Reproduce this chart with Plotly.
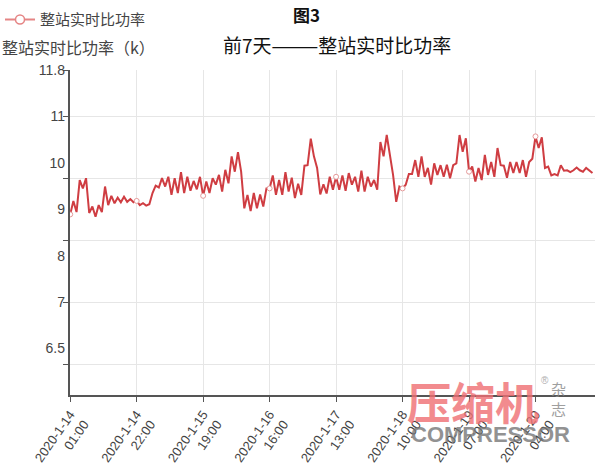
import plotly.graph_objects as go
import pandas as pd

# ---- data (hourly readings) ----
start_time = "2020-01-14 01:00"
values = [
    8.89, 9.18, 8.94, 9.63, 9.45, 9.67, 8.92, 9.06, 8.84, 9.09,
    8.94, 9.49, 9.09, 9.29, 9.13, 9.25, 9.15, 9.27, 9.16, 9.22,
    9.15, 9.18, 9.09, 9.13, 9.08, 9.11, 9.35, 9.51, 9.47, 9.67,
    9.49, 9.70, 9.31, 9.67, 9.35, 9.80, 9.35, 9.70, 9.40, 9.61,
    9.43,
    9.70, 9.29, 9.60, 9.35, 9.67, 9.53, 9.74, 9.38, 9.85, 9.56,
    10.14, 9.81, 10.23, 9.81, 9.02, 9.31, 8.96, 9.35, 9.02, 9.32,
    9.06, 9.45, 9.45, 9.73, 9.31, 9.63, 9.31, 9.80, 9.38, 9.68,
    9.24, 9.55, 9.31, 9.94, 9.95, 10.52, 10.14, 9.89, 9.32, 9.54,
    9.34, 9.70,
    9.42, 9.70, 9.42, 9.73, 9.40, 9.78, 9.53, 9.70, 9.38, 9.83,
    9.38, 9.70, 9.49, 9.63, 9.42, 10.45, 10.14, 10.60, 10.14, 9.74,
    9.16, 9.49, 9.45, 9.53, 9.76, 9.76, 10.06, 9.70, 10.14, 9.70,
    9.89, 9.53, 9.99, 9.74, 9.95, 9.70, 9.96, 9.67, 9.95, 9.99,
    10.60, 10.24,
    10.53, 9.81, 9.92, 9.60, 9.89, 9.63, 10.17, 9.74, 10.02, 9.70,
    10.32, 9.95, 9.94, 9.68, 10.02, 9.78, 10.02, 9.78, 10.06, 9.70,
    10.02, 10.09, 10.57, 10.32, 10.55, 9.89, 9.92, 9.73, 9.76, 9.73,
    9.95, 9.83, 9.84, 9.80, 9.84, 9.90, 9.84, 9.81, 9.89, 9.84,
    9.78,
]
tick_step = 21
x_tick_labels = [
    "2020-1-14<br>01:00", "2020-1-14<br>22:00", "2020-1-15<br>19:00",
    "2020-1-16<br>16:00", "2020-1-17<br>13:00", "2020-1-18<br>10:00",
    "2020-1-19<br>07:00", "2020-1-20<br>04:00",
]
y_label_vals = [12, 11, 10, 9, 8, 7, 6]
y_label_text = ["11.8", "11", "10", "9", "8", "7", "6.5"]
y_grid_vals = [12, 11, 29 / 3, 25 / 3, 7, 17 / 3]
series_name = "整站实时比功率"

times = pd.date_range(start_time, periods=len(values), freq="h")
tick_times = list(times[::tick_step])

FONT = "Noto Sans CJK SC"
LINE_COLOR = "#cf3d42"

fig = go.Figure()
fig.add_trace(go.Scatter(
    x=times, y=values, mode="lines", name=series_name,
    line=dict(color=LINE_COLOR, width=2), showlegend=False,
))
fig.add_trace(go.Scatter(
    x=times[::tick_step], y=values[::tick_step], mode="markers",
    marker=dict(symbol="circle", size=5, color="white",
                line=dict(color="#e59a9a", width=1)),
    showlegend=False, yaxis="y2",
))
# legend-only item
fig.add_trace(go.Scatter(
    x=[None], y=[None], mode="lines+markers", name=series_name,
    line=dict(color="#e58585", width=2),
    marker=dict(symbol="circle", size=9, color="white",
                line=dict(color="#e58585", width=1.5)),
))

fig.update_layout(
    width=600, height=469,
    margin=dict(l=70, r=5, t=70, b=74, autoexpand=False),
    paper_bgcolor="white", plot_bgcolor="white",
    font=dict(family=FONT, color="#333"),
    showlegend=True,
    legend=dict(xref="container", yref="container", x=0.0, y=0.958,
                xanchor="left", yanchor="middle", orientation="h",
                font=dict(size=15, color="#444"), bgcolor="rgba(0,0,0,0)",
                itemwidth=30),
    xaxis=dict(
        type="date", automargin=False,
        range=[times[0] - pd.Timedelta(minutes=4), times[0] + pd.Timedelta(hours=165.8)],
        tickvals=tick_times, ticktext=x_tick_labels, tickangle=-55,
        ticks="outside", ticklen=5, tickcolor="#555",
        showgrid=True, gridcolor="#e6e6e6", gridwidth=1,
        showline=True, linecolor="#555", linewidth=1.5,
        tickfont=dict(size=13, color="#444", family="Liberation Sans"),
        zeroline=False,
    ),
    yaxis=dict(
        automargin=False,
        range=[5, 12], tickvals=y_grid_vals, showticklabels=False,
        ticks="outside", ticklen=5, tickcolor="#555",
        showgrid=True, gridcolor="#e6e6e6", gridwidth=1,
        showline=True, linecolor="#555", linewidth=1.5, zeroline=False,
    ),
    yaxis2=dict(
        automargin=False,
        overlaying="y", side="left", range=[5, 12],
        tickvals=y_label_vals, ticktext=y_label_text,
        showgrid=False, ticks="", showline=False, zeroline=False,
        ticklabelstandoff=4,
        tickfont=dict(size=14, color="#444", family="Liberation Sans"),
    ),
)

annotations = [
    dict(text="<b>图3</b>", x=0.451, y=1.172, xref="paper", yref="paper",
         showarrow=False, font=dict(size=17, color="#111", family=FONT),
         xanchor="center", yanchor="middle"),
    dict(text="前7天———整站实时比功率", x=0.509, y=1.077, xref="paper", yref="paper",
         showarrow=False, font=dict(size=19, color="#111", family=FONT),
         xanchor="center", yanchor="middle"),
    dict(text="整站实时比功率（k）", x=-0.133, y=1.071, xref="paper", yref="paper",
         showarrow=False, font=dict(size=16, color="#444", family=FONT),
         xanchor="left", yanchor="middle"),
    # watermark
    dict(text="<b>压缩机</b>", x=0.768, y=-0.018, xref="paper", yref="paper",
         showarrow=False, font=dict(size=44, color="#ef6f73", family=FONT),
         xanchor="center", yanchor="middle", opacity=0.8),
    dict(text="<b>COMPRESSOR</b>", x=0.80, y=-0.122, xref="paper", yref="paper",
         showarrow=False, font=dict(size=22, color="#777", family="Liberation Sans"),
         xanchor="center", yanchor="middle", opacity=0.8),
    dict(text="杂<br>志", x=0.93, y=-0.012, xref="paper", yref="paper",
         showarrow=False, font=dict(size=15, color="#888", family=FONT),
         xanchor="center", yanchor="middle", opacity=0.8),
    dict(text="®", x=0.905, y=0.045, xref="paper", yref="paper",
         showarrow=False, font=dict(size=10, color="#999", family="Liberation Sans"),
         xanchor="center", yanchor="middle", opacity=0.8),
]
fig.update_layout(annotations=annotations)

fig.write_html("out.html", config={"displayModeBar": False},
               post_script="document.body.style.margin='0px';document.body.style.padding='0px';")
